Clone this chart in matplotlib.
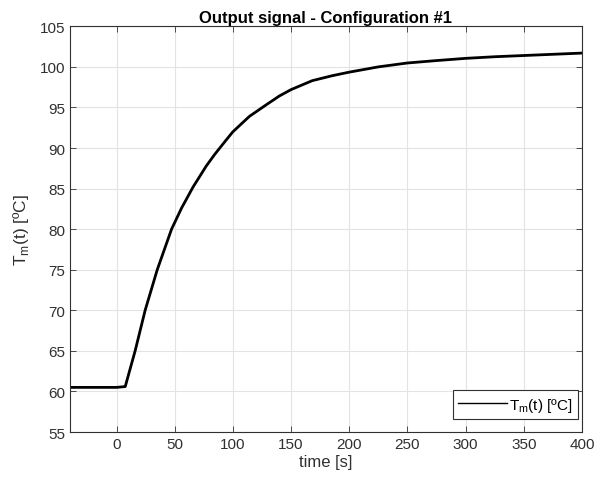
import matplotlib
matplotlib.use("Agg")
import matplotlib.pyplot as plt

# values (time in s, temperature in degC)
time_s = [-40, -20, 0, 7.5, 10, 16, 24.6, 35, 47.3, 55.9, 65.8, 77.2, 84.3,
          94.3, 100, 114.2, 128.4, 139.8, 150, 168.2, 185, 200, 225, 250,
          273.5, 300, 325, 350, 375, 400]
temp_c = [60.5, 60.5, 60.5, 60.6, 61.9, 65.0, 70.0, 75.0, 80.0, 82.6, 85.2,
          87.8, 89.2, 91.0, 92.0, 93.9, 95.3, 96.4, 97.2, 98.3, 98.9, 99.35,
          100.0, 100.48, 100.76, 101.05, 101.25, 101.4, 101.55, 101.7]

x_ticks = [0, 50, 100, 150, 200, 250, 300, 350, 400]
y_ticks = [55, 60, 65, 70, 75, 80, 85, 90, 95, 100, 105]

plt.rcParams['font.family'] = ['Liberation Sans', 'DejaVu Sans']
txt = '#303030'

fig = plt.figure(figsize=(5.95, 4.85), dpi=100)
ax = fig.add_axes([0.1176, 0.1072, 0.8605, 0.8365])

ax.plot(time_s, temp_c, color='black', linewidth=2.0,
        label='T$_\\mathregular{m}$(t) [ºC]')

ax.set_xlim(-40, 400)
ax.set_ylim(55, 105)
ax.set_xticks(x_ticks)
ax.set_yticks(y_ticks)
ax.grid(True, color='#e3e3e3', linewidth=0.8)
ax.set_axisbelow(True)
ax.tick_params(direction='in', top=True, right=True, labelsize=11,
               colors=txt, length=4, width=0.6)
for s in ax.spines.values():
    s.set_color(txt)
    s.set_linewidth(0.8)

ax.set_title('Output signal - Configuration #1', fontsize=12,
             fontweight='bold', color='black', pad=3)
ax.set_xlabel('time [s]', fontsize=12, color=txt, labelpad=2)
ax.set_ylabel('T$_\\mathregular{m}$(t) [ºC]', fontsize=12.5, color=txt,
              labelpad=6)

leg = ax.legend(loc='lower right', bbox_to_anchor=(0.992, 0.032),
                fontsize=11, fancybox=False, framealpha=1, edgecolor=txt,
                handlelength=3.2, handletextpad=0.15, borderpad=0.35,
                borderaxespad=0)
leg.get_frame().set_linewidth(0.8)
for ln in leg.get_lines():
    ln.set_linewidth(1.0)

fig.savefig('out.png', dpi=100)
